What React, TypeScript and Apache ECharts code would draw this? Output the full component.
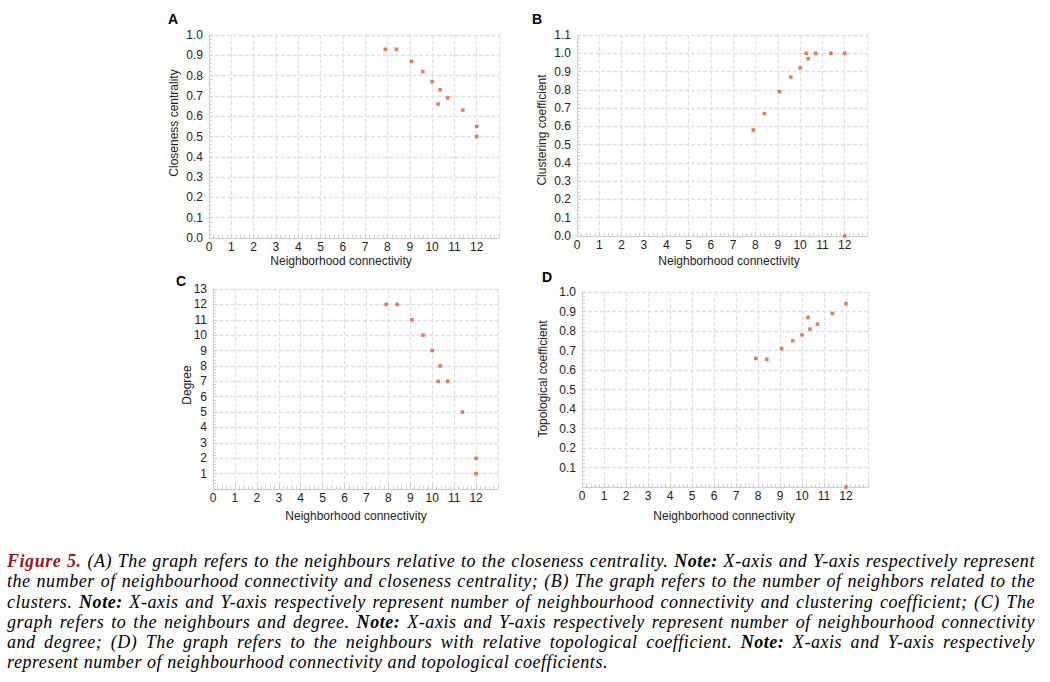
import React, { useEffect, useRef } from "react";
import * as echarts from "echarts";

// Neighborhood connectivity (shared x values)
const connectivity = [7.9, 8.4, 9.07, 9.58, 10.0, 10.27, 10.36, 10.7, 11.38, 12, 12];
// Panel A
const closeness = [0.93, 0.93, 0.87, 0.82, 0.77, 0.66, 0.73, 0.69, 0.63, 0.55, 0.5];
// Panel B
const clustering = [0.58, 0.67, 0.79, 0.87, 0.92, 1.0, 0.97, 1.0, 1.0, 1.0, 0.0];
// Panel C
const degree = [12, 12, 11, 10, 9, 7, 8, 7, 5, 2, 1];
// Panel D
const topological = [0.66, 0.655, 0.71, 0.75, 0.78, 0.87, 0.81, 0.835, 0.89, 0.94, 0.0];

const panelLetters = ["A", "B", "C", "D"];
const yNames = ["Closeness centrality", "Clustering coefficient", "Degree", "Topological coefficient"];
const xName = "Neighborhood connectivity";

const captionLines = [
  [
    { t: "Figure 5.", s: "fig" },
    { t: " (A) The graph refers to the neighbours relative to the closeness centrality. ", s: "" },
    { t: "Note:", s: "b" },
    { t: " X-axis and Y-axis respectively represent", s: "" },
  ],
  [{ t: "the number of neighbourhood connectivity and closeness centrality; (B) The graph refers to the number of neighbors related to the", s: "" }],
  [
    { t: "clusters. ", s: "" },
    { t: "Note:", s: "b" },
    { t: " X-axis and Y-axis respectively represent number of neighbourhood connectivity and clustering coefficient; (C) The", s: "" },
  ],
  [
    { t: "graph refers to the neighbours and degree. ", s: "" },
    { t: "Note:", s: "b" },
    { t: " X-axis and Y-axis respectively represent number of neighbourhood connectivity", s: "" },
  ],
  [
    { t: "and degree; (D) The graph refers to the neighbours with relative topological coefficient. ", s: "" },
    { t: "Note:", s: "b" },
    { t: " X-axis and Y-axis respectively", s: "" },
  ],
  [{ t: "represent number of neighbourhood connectivity and topological coefficients.", s: "" }],
];

const FONT = "'Liberation Sans', Arial, sans-serif";

export default function App() {
  const ref = useRef<HTMLDivElement>(null);

  useEffect(() => {
    if (!ref.current) return;
    const chart = echarts.init(ref.current, undefined, { renderer: "svg" });

    const grids = [
      { left: 209, top: 35, width: 290, height: 203 },
      { left: 577, top: 35, width: 290, height: 201 },
      { left: 213, top: 289, width: 285, height: 200 },
      { left: 582, top: 292, width: 286, height: 195 },
    ];
    const yRanges = [
      { min: 0, max: 1.0, interval: 0.1, dec: 1, hideZero: false },
      { min: 0, max: 1.1, interval: 0.1, dec: 1, hideZero: false },
      { min: 0, max: 13, interval: 1, dec: 0, hideZero: true },
      { min: 0, max: 1.0, interval: 0.1, dec: 1, hideZero: true },
    ];
    const ys = [closeness, clustering, degree, topological];

    const axisLineStyle = { color: "#cfcfcf", width: 1 };
    const splitStyle = { color: "#e0e0e0", width: 1.3, type: [4, 2] as any };

    const xAxes = grids.map((_, i) => ({
      type: "value",
      gridIndex: i,
      min: 0,
      max: 13,
      interval: 1,
      axisLine: { show: true, lineStyle: axisLineStyle },
      axisTick: { show: true, inside: true, length: 4, lineStyle: { color: "#cfcfcf" } },
      minorTick: { show: true, splitNumber: 5, length: 3, lineStyle: { color: "#cfcfcf" } },
      splitLine: { show: true, lineStyle: splitStyle },
      axisLabel: {
        margin: 3,
        fontSize: 12,
        lineHeight: 12,
        color: "#222",
        fontFamily: FONT,
        formatter: (v: number) => (v === 13 ? "" : String(v)),
      },
    }));

    const yAxes = grids.map((_, i) => ({
      type: "value",
      gridIndex: i,
      min: yRanges[i].min,
      max: yRanges[i].max,
      interval: yRanges[i].interval,
      axisLine: { show: true, lineStyle: axisLineStyle },
      axisTick: { show: true, inside: true, length: 4, lineStyle: { color: "#cfcfcf" } },
      minorTick: { show: true, splitNumber: 5, length: 3, lineStyle: { color: "#cfcfcf" } },
      splitLine: { show: true, lineStyle: splitStyle },
      axisLabel: {
        margin: 6,
        fontSize: 12,
        lineHeight: 12,
        color: "#222",
        fontFamily: FONT,
        formatter: (v: number) => {
          if (yRanges[i].hideZero && Math.abs(v) < 1e-9) return "";
          return v.toFixed(yRanges[i].dec);
        },
      },
    }));

    const series = grids.map((_, i) => ({
      type: "scatter",
      xAxisIndex: i,
      yAxisIndex: i,
      symbol: "rect",
      symbolSize: 3.5,
      clip: true,
      itemStyle: { color: "#f4511e" },
      data: connectivity.map((x, k) => [x, ys[i][k]]),
    }));

    const letterPos = [
      [173, 19],
      [537, 19],
      [181, 281],
      [547, 277],
    ];
    const xNamePos = [
      [341, 261],
      [729, 261],
      [356, 516],
      [724, 516],
    ];
    const yNamePos = [
      [174, 123],
      [542, 130],
      [187, 385],
      [543, 379],
    ];

    const graphic: any[] = [];
    for (let i = 0; i < 4; i++) {
      graphic.push({
        type: "text",
        x: letterPos[i][0],
        y: letterPos[i][1],
        style: {
          text: panelLetters[i],
          font: `bold 14px ${FONT}`,
          fill: "#000",
          textAlign: "center",
          textVerticalAlign: "middle",
          align: "center",
          verticalAlign: "middle",
        },
      });
      graphic.push({
        type: "text",
        x: xNamePos[i][0],
        y: xNamePos[i][1],
        style: {
          text: xName,
          font: `12px ${FONT}`,
          lineHeight: 12,
          fill: "#222",
          textAlign: "center",
          textVerticalAlign: "middle",
          align: "center",
          verticalAlign: "middle",
        },
      });
      graphic.push({
        type: "text",
        x: yNamePos[i][0],
        y: yNamePos[i][1],
        rotation: Math.PI / 2,
        style: {
          text: yNames[i],
          font: `12px ${FONT}`,
          lineHeight: 12,
          fill: "#222",
          textAlign: "center",
          textVerticalAlign: "middle",
          align: "center",
          verticalAlign: "middle",
        },
      });
    }

    chart.setOption({
      animation: false,
      backgroundColor: "#ffffff",
      grid: grids,
      xAxis: xAxes,
      yAxis: yAxes,
      series,
      graphic,
    } as any);

    return () => chart.dispose();
  }, []);

  return (
    <div style={{ position: "absolute", left: 0, top: 0, width: 1050, height: 682, background: "#fff", overflow: "hidden" }}>
      <div ref={ref} style={{ position: "absolute", left: 0, top: 0, width: 1050, height: 540 }} />
      <div
        style={{
          position: "absolute",
          left: 7,
          top: 551,
          width: 1028,
          fontFamily: "'Liberation Serif', 'Times New Roman', serif",
          fontStyle: "italic",
          fontSize: 18,
          letterSpacing: "0.55px",
          lineHeight: "20.3px",
          color: "#000",
        }}
      >
        {captionLines.map((line, li) => (
          <div
            key={li}
            style={{
              textAlign: "justify",
              textAlignLast: li < captionLines.length - 1 ? "justify" : "left",
              whiteSpace: "nowrap",
            }}
          >
            {line.map((seg, si) => (
              <span
                key={si}
                style={
                  seg.s === "fig"
                    ? { fontWeight: "bold", color: "#a0151b" }
                    : seg.s === "b"
                    ? { fontWeight: "bold" }
                    : {}
                }
              >
                {seg.t}
              </span>
            ))}
          </div>
        ))}
      </div>
    </div>
  );
}
